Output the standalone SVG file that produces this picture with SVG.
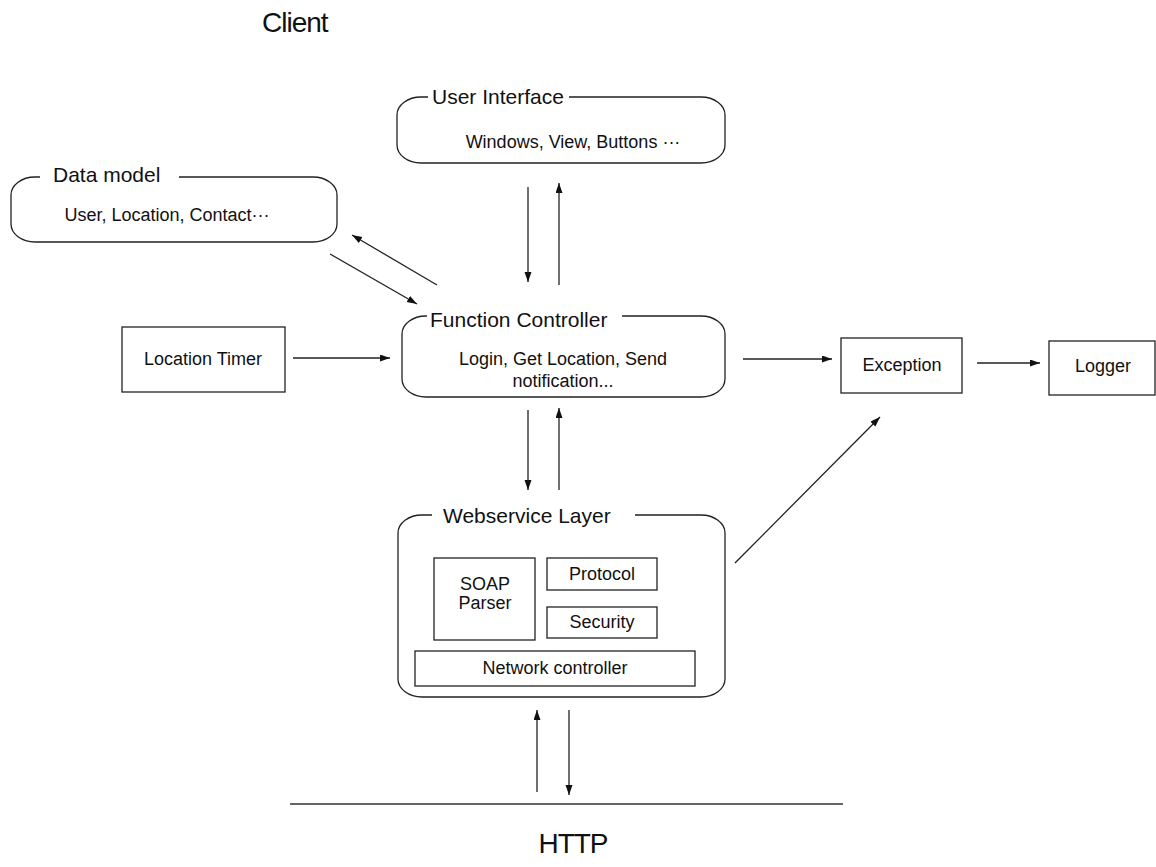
<svg xmlns="http://www.w3.org/2000/svg" width="1156" height="867" viewBox="0 0 1156 867">
  <style>
    text { font-family: "Liberation Sans", Arial, sans-serif; fill: #111; }
    .title { font-size: 21px; }
    .body { font-size: 18px; text-anchor: middle; }
    .big { font-size: 28px; letter-spacing: -1px; }
    .frame { fill: none; stroke: #222; stroke-width: 1.3; }
    .box { fill: #fff; stroke: #222; stroke-width: 1.3; }
    .link { fill: none; stroke: #222; stroke-width: 1.3; marker-end: url(#arrow); }
  </style>
  <defs>
    <marker id="arrow" markerUnits="userSpaceOnUse" markerWidth="11" markerHeight="8" refX="10" refY="3.5" orient="auto">
      <path d="M0,0 L10,3.5 L0,7 z" fill="#111"/>
    </marker>
  </defs>
  <rect width="1156" height="867" fill="#fff"/>

  <text class="big" x="262" y="32">Client</text>

  <!-- rounded layer frames: top edge is broken where the title sits -->
  <g id="user-interface">
    <path class="frame" d="M569,97 H701 A24,18 0 0 1 725,115 V145 A24,18 0 0 1 701,163 H421 A24,18 0 0 1 397,145 V115 A24,18 0 0 1 421,97 H428"/>
    <text class="title" x="432" y="104">User Interface</text>
    <text class="body" x="573" y="148">Windows, View, Buttons ···</text>
  </g>

  <g id="data-model">
    <path class="frame" d="M179,177 H313 A24,18 0 0 1 337,195 V224 A24,18 0 0 1 313,242 H35 A24,18 0 0 1 11,224 V195 A24,18 0 0 1 35,177 H40"/>
    <text class="title" x="53" y="182">Data model</text>
    <text class="body" x="167" y="221">User, Location, Contact···</text>
  </g>

  <g id="function-controller">
    <path class="frame" d="M622,316 H701 A24,18 0 0 1 725,334 V379 A24,18 0 0 1 701,397 H426 A24,18 0 0 1 402,379 V334 A24,18 0 0 1 426,316 H427"/>
    <text class="title" x="430" y="327">Function Controller</text>
    <text class="body" x="563" y="365">Login, Get Location, Send</text>
    <text class="body" x="563" y="387">notification...</text>
  </g>

  <g id="location-timer">
    <rect class="box" x="122" y="327" width="163" height="65"/>
    <text class="body" x="203" y="365">Location Timer</text>
  </g>

  <g id="exception">
    <rect class="box" x="841" y="338" width="121" height="55"/>
    <text class="body" x="902" y="371">Exception</text>
  </g>

  <g id="logger">
    <rect class="box" x="1049" y="341" width="106" height="54"/>
    <text class="body" x="1103" y="372">Logger</text>
  </g>

  <g id="webservice-layer">
    <path class="frame" d="M635,515 H701 A24,18 0 0 1 725,533 V679 A24,18 0 0 1 701,697 H422 A24,18 0 0 1 398,679 V533 A24,18 0 0 1 422,515 H432"/>
    <text class="title" x="443" y="523">Webservice Layer</text>
    <g id="soap-parser">
      <rect class="box" x="434" y="558" width="101" height="82"/>
      <text class="body" x="485" y="590">SOAP</text>
      <text class="body" x="485" y="609">Parser</text>
    </g>
    <g id="protocol">
      <rect class="box" x="547" y="558" width="110" height="32"/>
      <text class="body" x="602" y="580">Protocol</text>
    </g>
    <g id="security">
      <rect class="box" x="547" y="607" width="110" height="31"/>
      <text class="body" x="602" y="628">Security</text>
    </g>
    <g id="network-controller">
      <rect class="box" x="415" y="651" width="280" height="35"/>
      <text class="body" x="555" y="674">Network controller</text>
    </g>
  </g>

  <g id="http">
    <line x1="290" y1="804" x2="843" y2="804" stroke="#333" stroke-width="1.5"/>
    <text class="big" x="573" y="853" text-anchor="middle">HTTP</text>
  </g>

  <g id="connectors">
    <line class="link" x1="528" y1="187" x2="528" y2="282"/>
    <line class="link" x1="559" y1="285" x2="559" y2="183"/>
    <line class="link" x1="437" y1="285" x2="352" y2="235"/>
    <line class="link" x1="330" y1="254" x2="417" y2="304"/>
    <line class="link" x1="293" y1="358" x2="390" y2="358"/>
    <line class="link" x1="743" y1="359" x2="832" y2="359"/>
    <line class="link" x1="977" y1="363" x2="1040" y2="363"/>
    <line class="link" x1="528" y1="410" x2="528" y2="490"/>
    <line class="link" x1="559" y1="490" x2="559" y2="408"/>
    <line class="link" x1="735" y1="563" x2="880" y2="417"/>
    <line class="link" x1="537" y1="792" x2="537" y2="710"/>
    <line class="link" x1="569" y1="710" x2="569" y2="795"/>
  </g>
</svg>
